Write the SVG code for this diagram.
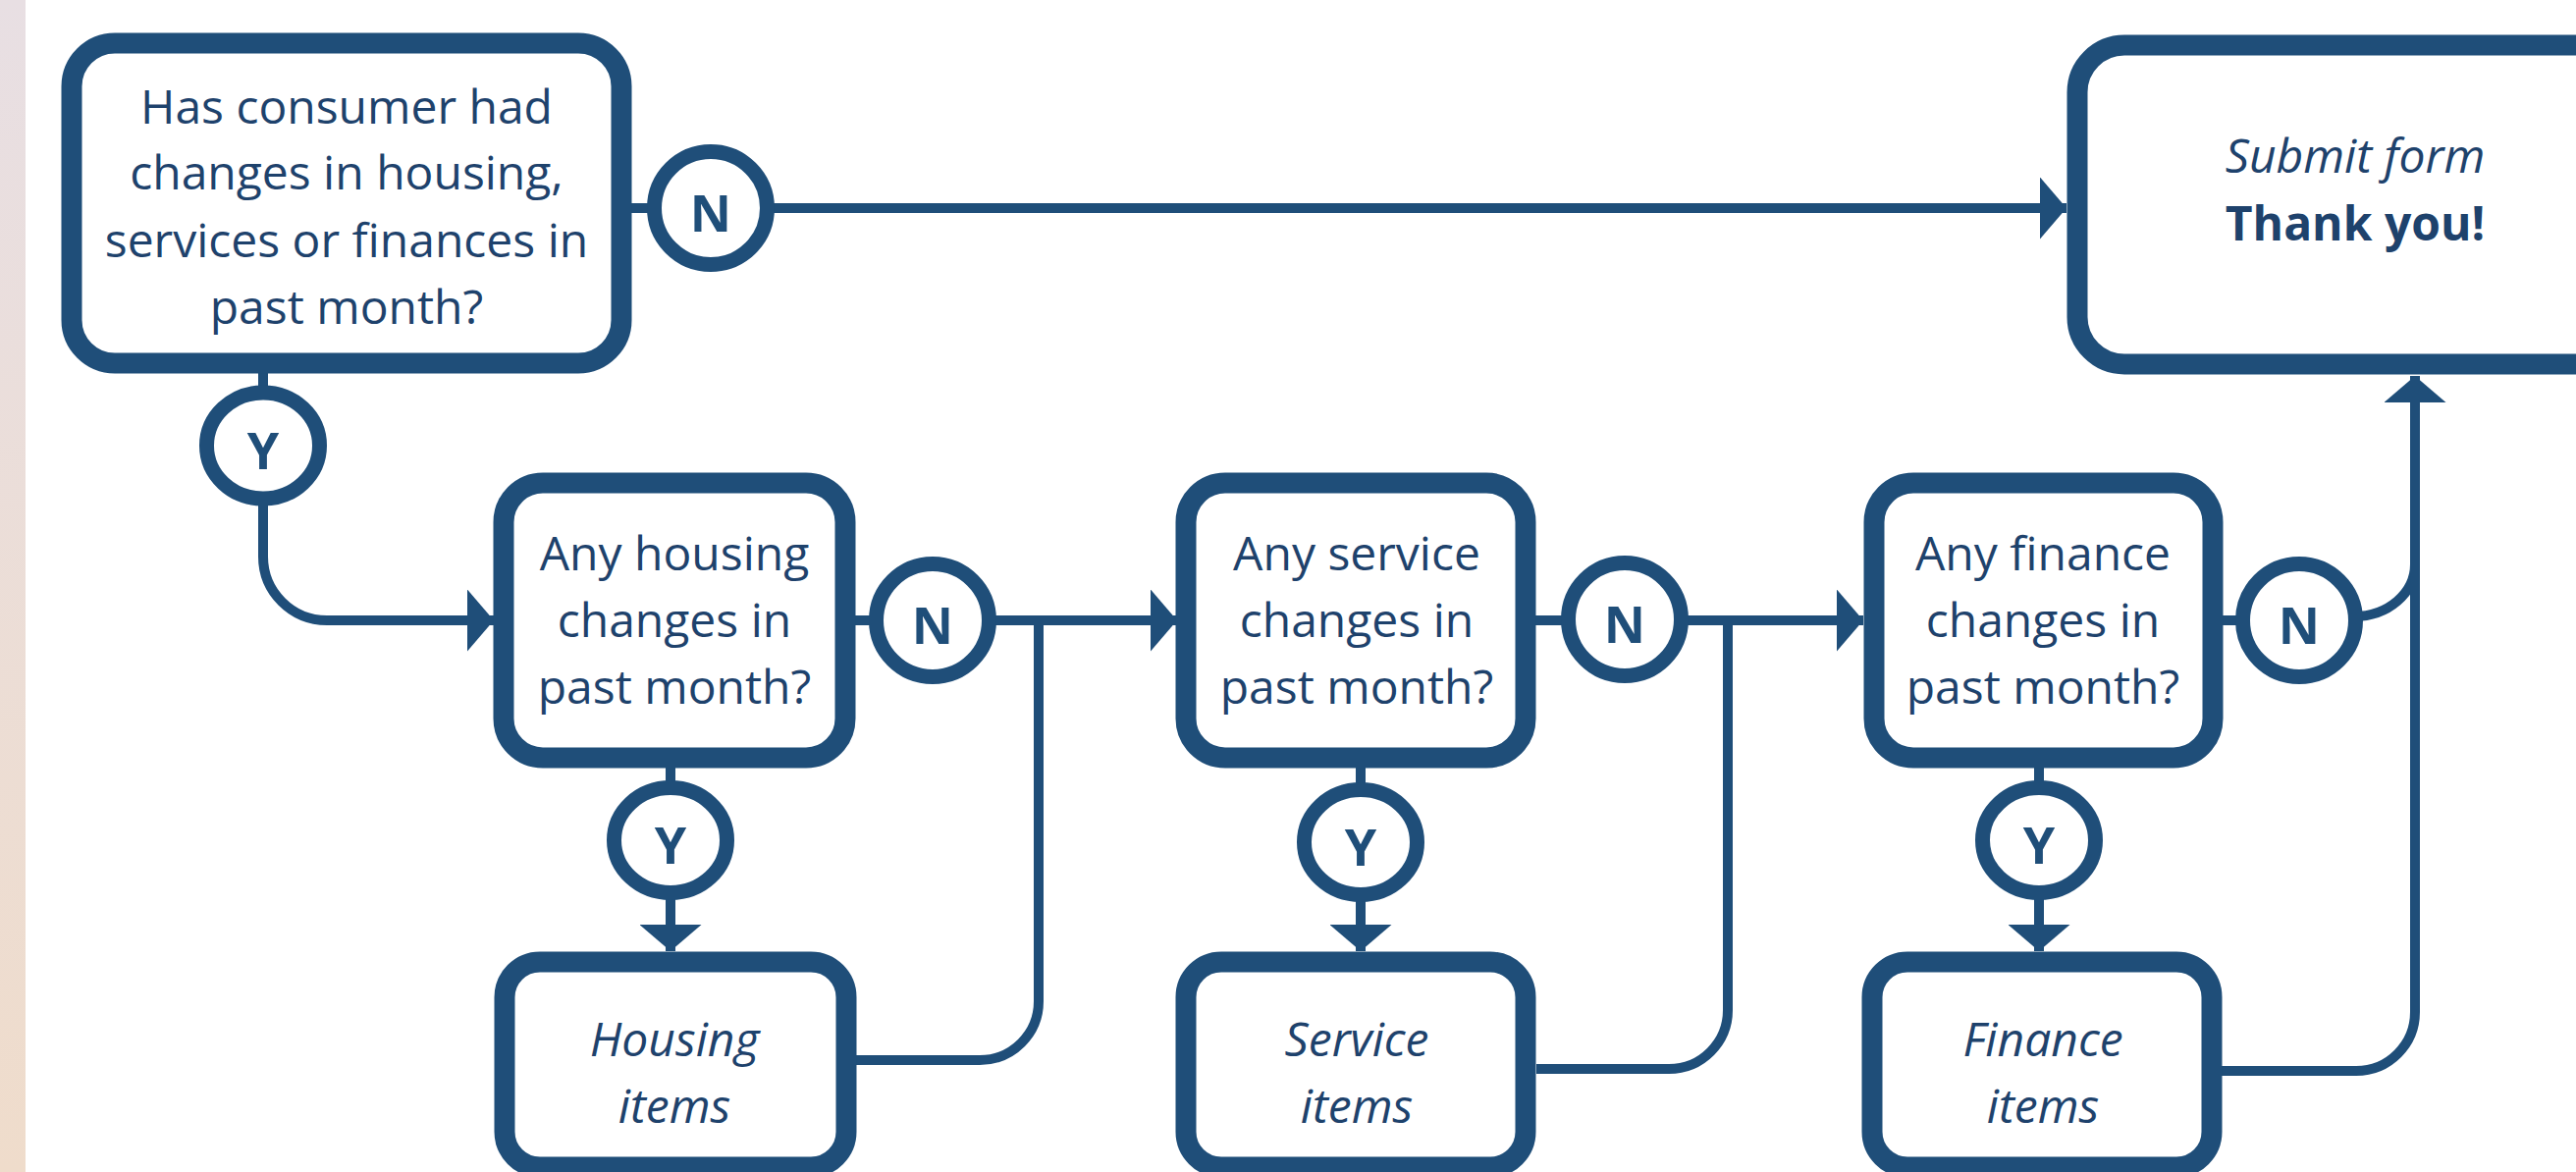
<svg xmlns="http://www.w3.org/2000/svg" width="2624" height="1194" viewBox="0 0 2624 1194">
<defs>
<linearGradient id="strip" x1="0" y1="0" x2="0" y2="1">
<stop offset="0" stop-color="#e8dfe3"/>
<stop offset="1" stop-color="#efdccb"/>
</linearGradient>
<marker id="arr" markerUnits="userSpaceOnUse" viewBox="0 0 27 63" refX="27" refY="31.5" markerWidth="27" markerHeight="63" orient="auto">
<path d="M0,0 L27,31.5 L0,63 Z" fill="#1f4e79"/>
</marker>
</defs>
<style>
.box{fill:#ffffff;stroke:#1f4e79;stroke-width:21}
.lab{fill:#ffffff;stroke:#1f4e79;stroke-width:15}
.con{fill:none;stroke:#1f4e79;stroke-width:10}
.t{font-family:"Open Sans","Noto Sans","Liberation Sans",sans-serif;font-size:48px;fill:#1e426c;text-anchor:middle}
.i{font-style:italic}
.b{font-weight:bold}
.l{font-family:"Open Sans","Noto Sans","Liberation Sans",sans-serif;font-size:52px;font-weight:bold;fill:#1f4e79;text-anchor:middle}
</style>
<rect x="0" y="0" width="2624" height="1194" fill="#ffffff"/>
<rect x="0" y="0" width="26" height="1194" fill="url(#strip)"/>

<g id="connectors">
<path class="con" d="M633,212 H2105" marker-end="url(#arr)"/>
<path class="con" d="M268,370 V567 A65,65 0 0 0 333,632 H503" marker-end="url(#arr)"/>
<path class="con" d="M861,632 H1199" marker-end="url(#arr)"/>
<path class="con" d="M683,782 V969" marker-end="url(#arr)"/>
<path class="con" d="M872,1080 H998 A60,60 0 0 0 1058,1020 V632"/>
<path class="con" d="M1554,632 H1898" marker-end="url(#arr)"/>
<path class="con" d="M1386,782 V969" marker-end="url(#arr)"/>
<path class="con" d="M1565,1089 H1700 A60,60 0 0 0 1760,1029 V632"/>
<path class="con" d="M2254,632 H2342"/>
<path class="con" d="M2398,628 A62,53 0 0 0 2460,575"/>
<path class="con" d="M2077,782 V969" marker-end="url(#arr)"/>
<path class="con" d="M2263,1091 H2400 A60,60 0 0 0 2460,1031 V383" marker-end="url(#arr)"/>
</g>

<g id="q-main">
<rect class="box" x="73" y="44" width="560" height="326" rx="44"/>
<text class="t" x="353" y="126">Has consumer had</text>
<text class="t" x="353" y="193">changes in housing,</text>
<text class="t" x="353" y="262">services or finances in</text>
<text class="t" x="353" y="330">past month?</text>
</g>

<g id="submit">
<rect class="box" x="2116" y="46" width="700" height="325" rx="48"/>
<text class="t i" x="2399" y="176">Submit form</text>
<text class="t b" x="2399" y="245">Thank you!</text>
</g>

<g id="q-housing">
<rect class="box" x="513" y="492" width="348" height="280" rx="40"/>
<text class="t" x="687" y="581">Any housing</text>
<text class="t" x="687" y="649">changes in</text>
<text class="t" x="687" y="717">past month?</text>
</g>

<g id="q-service">
<rect class="box" x="1208" y="492" width="346" height="280" rx="40"/>
<text class="t" x="1382" y="581">Any service</text>
<text class="t" x="1382" y="649">changes in</text>
<text class="t" x="1382" y="717">past month?</text>
</g>

<g id="q-finance">
<rect class="box" x="1909" y="492" width="345" height="280" rx="40"/>
<text class="t" x="2081" y="581">Any finance</text>
<text class="t" x="2081" y="649">changes in</text>
<text class="t" x="2081" y="717">past month?</text>
</g>

<g id="housing-items">
<rect class="box" x="514" y="980" width="348" height="209" rx="36"/>
<text class="t i" x="687" y="1076">Housing</text>
<text class="t i" x="687" y="1144">items</text>
</g>

<g id="service-items">
<rect class="box" x="1208" y="980" width="346" height="209" rx="36"/>
<text class="t i" x="1382" y="1076">Service</text>
<text class="t i" x="1382" y="1144">items</text>
</g>

<g id="finance-items">
<rect class="box" x="1907" y="980" width="346" height="209" rx="36"/>
<text class="t i" x="2081" y="1076">Finance</text>
<text class="t i" x="2081" y="1144">items</text>
</g>

<g id="n-main">
<circle class="lab" cx="724" cy="212" r="57.5"/>
<text class="l" x="724" y="236">N</text>
</g>
<g id="y-main">
<ellipse class="lab" cx="268" cy="454" rx="57.5" ry="54"/>
<text class="l" x="268" y="478">Y</text>
</g>
<g id="n-housing">
<circle class="lab" cx="950" cy="632" r="57.5"/>
<text class="l" x="950" y="656">N</text>
</g>
<g id="y-housing">
<ellipse class="lab" cx="683" cy="856" rx="57.5" ry="53.5"/>
<text class="l" x="683" y="880">Y</text>
</g>
<g id="n-service">
<circle class="lab" cx="1655" cy="631" r="57.5"/>
<text class="l" x="1655" y="655">N</text>
</g>
<g id="y-service">
<ellipse class="lab" cx="1386" cy="858" rx="57.5" ry="53.5"/>
<text class="l" x="1386" y="882">Y</text>
</g>
<g id="n-finance">
<circle class="lab" cx="2342" cy="632" r="57.5"/>
<text class="l" x="2342" y="656">N</text>
</g>
<g id="y-finance">
<ellipse class="lab" cx="2077" cy="856" rx="57.5" ry="53.5"/>
<text class="l" x="2077" y="880">Y</text>
</g>
</svg>
